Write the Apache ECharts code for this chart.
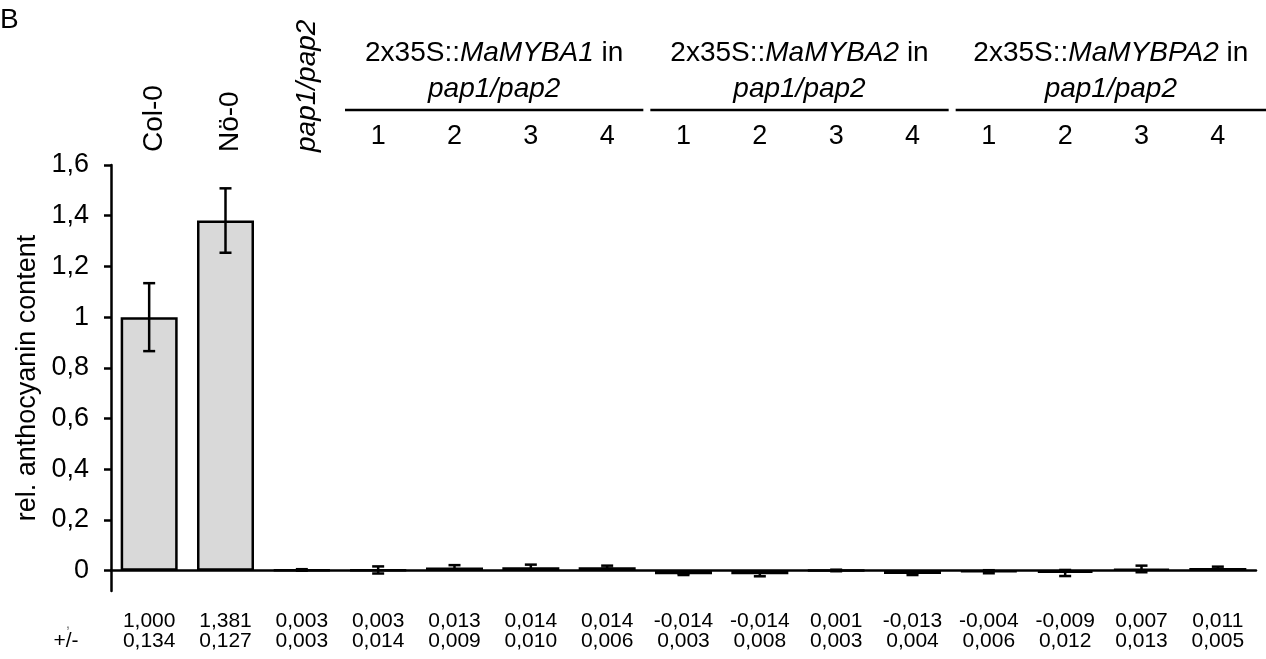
<!DOCTYPE html>
<html>
<head>
<meta charset="utf-8">
<script src="https://cdn.jsdelivr.net/npm/echarts@6/dist/echarts.min.js"></script>
<style>
  html, body { margin: 0; padding: 0; background: #fff; }
  #chart { width: 1266px; height: 659px; }
</style>
</head>
<body>
<div id="chart"></div>
<script>
// lines in the order they are drawn
const lines = ['Col-0', 'Nö-0', 'pap1/pap2',
  'A1-1', 'A1-2', 'A1-3', 'A1-4',
  'A2-1', 'A2-2', 'A2-3', 'A2-4',
  'PA2-1', 'PA2-2', 'PA2-3', 'PA2-4'];
const means = [1.000, 1.381, 0.003, 0.003, 0.013, 0.014, 0.014, -0.014, -0.014, 0.001, -0.013, -0.004, -0.009, 0.007, 0.011];
const sds = [0.134, 0.127, 0.003, 0.014, 0.009, 0.010, 0.006, 0.003, 0.008, 0.003, 0.004, 0.006, 0.012, 0.013, 0.005];
const topLabels = ['', '', '', '1', '2', '3', '4', '1', '2', '3', '4', '1', '2', '3', '4'];
const rotatedLabels = ['Col-0', 'Nö-0', 'pap1/pap2'];
const groupGenes = ['MaMYBA1', 'MaMYBA2', 'MaMYBPA2'];
const groupStart = [3, 7, 11];
const yTicks = [0, 0.2, 0.4, 0.6, 0.8, 1.0, 1.2, 1.4, 1.6];

const FONT = '"Liberation Sans", Arial, Helvetica, sans-serif';
const fmt3 = v => v.toFixed(3).replace('.', ',');
const fmtY = v => String(+v.toFixed(1)).replace('.', ',');

const chart = echarts.init(document.getElementById('chart'));

const option = {
  backgroundColor: '#ffffff',
  animation: false,
  textStyle: { fontFamily: FONT, color: '#000' },
  grid: { left: 111, right: 10, top: 165, bottom: 68, containLabel: false },
  xAxis: [{
    type: 'category',
    data: lines,
    axisLine: { onZero: true, lineStyle: { color: '#000', width: 2.5 } },
    axisTick: { show: false },
    axisLabel: { show: false },
    splitLine: { show: false }
  }, {
    // value table under the plot
    type: 'category',
    data: lines,
    position: 'bottom',
    axisLine: { show: false, onZero: false },
    axisTick: { show: false },
    axisLabel: {
      interval: 0,
      margin: 20,
      fontSize: 21,
      lineHeight: 20,
      color: '#000',
      fontFamily: FONT,
      formatter: (v, i) => fmt3(means[i]) + '\n' + fmt3(sds[i])
    }
  }, {
    // line numbers on top
    type: 'category',
    data: lines,
    position: 'top',
    axisLine: { show: false, onZero: false },
    axisTick: { show: false },
    axisLabel: {
      interval: 0,
      margin: 14,
      fontSize: 27,
      lineHeight: 28,
      color: '#000',
      fontFamily: FONT,
      formatter: (v, i) => topLabels[i]
    }
  }],
  yAxis: {
    type: 'value',
    min: -0.08,
    max: 1.6,
    name: 'rel. anthocyanin content',
    nameLocation: 'middle',
    nameGap: 70,
    nameTextStyle: { fontSize: 27, color: '#000', fontFamily: FONT },
    axisLine: { show: true, lineStyle: { color: '#000', width: 2.5 } },
    axisTick: { show: true, length: 7, customValues: yTicks, lineStyle: { color: '#000', width: 2.5 } },
    axisLabel: { margin: 22, fontSize: 27, color: '#000', fontFamily: FONT, customValues: yTicks, formatter: fmtY },
    splitLine: { show: false }
  },
  series: [{
    type: 'bar',
    data: means,
    barWidth: 57,
    itemStyle: { color: '#d9d9d9', borderColor: '#000', borderWidth: 2.5 }
  }, {
    type: 'custom',
    data: means.map((m, i) => [i, m - sds[i], m + sds[i]]),
    encode: { x: 0, y: [1, 2] },
    z: 5,
    renderItem: (params, api) => {
      const lo = api.coord([api.value(0), api.value(1)]);
      const hi = api.coord([api.value(0), api.value(2)]);
      const cap = 6;
      const st = { stroke: '#000', lineWidth: 2.5 };
      return {
        type: 'group',
        children: [
          { type: 'line', shape: { x1: hi[0], y1: hi[1], x2: lo[0], y2: lo[1] }, style: st },
          { type: 'line', shape: { x1: hi[0] - cap, y1: hi[1], x2: hi[0] + cap, y2: hi[1] }, style: st },
          { type: 'line', shape: { x1: lo[0] - cap, y1: lo[1], x2: lo[0] + cap, y2: lo[1] }, style: st }
        ]
      };
    }
  }]
};

chart.setOption(option);

// header texts and group lines, placed from the category axis
const px = i => chart.convertToPixel({ xAxisIndex: 0 }, i);
const step = px(1) - px(0);
const W = chart.getWidth();
const elements = [];

const txt = (x, y, text, size, opts) => Object.assign({
  type: 'text', x: x, y: y,
  style: Object.assign({
    text: text, fontSize: size, fontFamily: FONT, fill: '#000',
    align: 'center', verticalAlign: 'middle', textAlign: 'center', textVerticalAlign: 'middle'
  }, (opts && opts.style) || {})
}, (opts && opts.el) || {});

elements.push(txt(0, 20, 'B', 28, { style: { align: 'left', textAlign: 'left' } }));

rotatedLabels.forEach((t, i) => {
  elements.push(txt(px(i) + 5, 152, t, 28, {
    style: { align: 'left', textAlign: 'left', fontStyle: i === 2 ? 'italic' : 'normal' },
    el: { rotation: Math.PI / 2 }
  }));
});

groupGenes.forEach((g, k) => {
  const s = groupStart[k];
  const left = px(s) - step / 2 + 5;
  const right = k === groupGenes.length - 1 ? W : px(s + 3) + step / 2 - 2;
  const cx = (left + right) / 2;
  elements.push({
    type: 'line', shape: { x1: left, y1: 110, x2: right, y2: 110 },
    style: { stroke: '#000', lineWidth: 2.5 }
  });
  elements.push({
    type: 'text', x: cx, y: 53,
    style: {
      text: '{n|2x35S::}{i|' + g + '}{n| in}',
      rich: {
        n: { fontSize: 28, fontFamily: FONT, fill: '#000' },
        i: { fontSize: 28, fontFamily: FONT, fontStyle: 'italic', fill: '#000' }
      },
      align: 'center', verticalAlign: 'middle', textAlign: 'center', textVerticalAlign: 'middle'
    }
  });
  elements.push(txt(cx, 89, 'pap1/pap2', 28, { style: { fontStyle: 'italic' } }));
});

elements.push(txt(68, 624, ',', 14, { style: { fill: '#666' } }));
elements.push(txt(66, 641, '+/-', 21));

chart.setOption({ graphic: { elements: elements } });
</script>
</body>
</html>
